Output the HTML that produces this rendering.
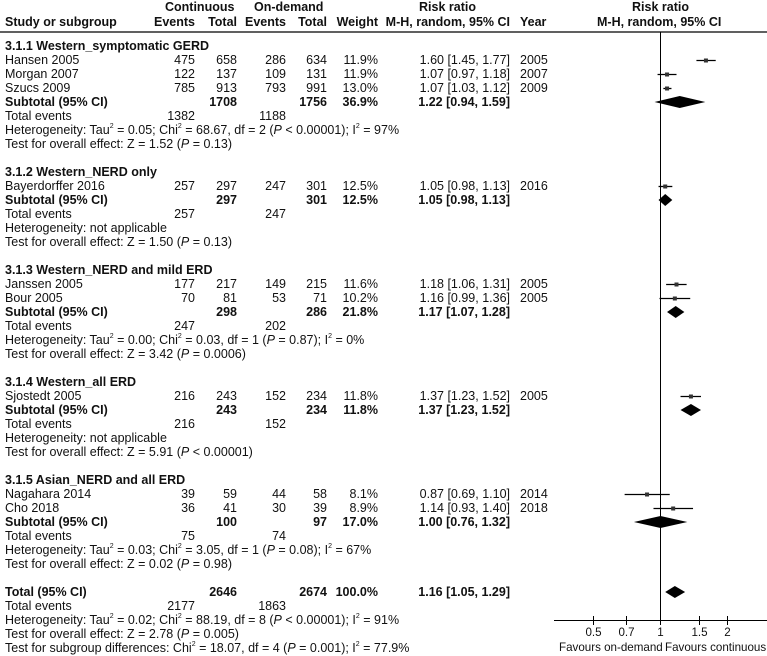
<!DOCTYPE html>
<html><head><meta charset="utf-8">
<style>
body{margin:0;background:#fff;}
#wrap{position:relative;width:767px;height:656px;overflow:hidden;font-family:"Liberation Sans",sans-serif;font-size:12.5px;color:#111;}
.t{position:absolute;white-space:nowrap;line-height:14px;height:14px;}
.r{text-align:right;}
.b{font-weight:bold;}
.hd{font-weight:bold;font-size:12.5px;}
.sm{font-size:11.6px;}
sup{font-size:7px;vertical-align:6px;line-height:0;}
i{font-style:italic;}
svg{position:absolute;left:0;top:0;}
</style></head>
<body>
<div id="wrap">
<svg id="plot" width="767" height="656"></svg>
</div>
<script>
// ---- data ----
const rowIndex = [1,2,3,10,17,18,25,32,33];
const studyNames = ["Hansen 2005","Morgan 2007","Szucs 2009","Bayerdorffer 2016","Janssen 2005","Bour 2005","Sjostedt 2005","Nagahara 2014","Cho 2018"];
const contEvents = [475,122,785,257,177,70,216,39,36];
const contTotal = [658,137,913,297,217,81,243,59,41];
const odEvents = [286,109,793,247,149,53,152,44,30];
const odTotal = [634,131,991,301,215,71,234,58,39];
const weights = ["11.9%","11.9%","13.0%","12.5%","11.6%","10.2%","11.8%","8.1%","8.9%"];
const rr = [1.60,1.07,1.07,1.05,1.18,1.16,1.37,0.87,1.14];
const rrLo = [1.45,0.97,1.03,0.98,1.06,0.99,1.23,0.69,0.93];
const rrHi = [1.77,1.18,1.12,1.13,1.31,1.36,1.52,1.10,1.40];
const years = ["2005","2007","2009","2016","2005","2005","2005","2014","2018"];

const subRowIndex = [4,11,19,26,34,39];
const subLabels = ["Subtotal (95% CI)","Subtotal (95% CI)","Subtotal (95% CI)","Subtotal (95% CI)","Subtotal (95% CI)","Total (95% CI)"];
const subContTotal = [1708,297,298,243,100,2646];
const subOdTotal = [1756,301,286,234,97,2674];
const subWeight = ["36.9%","12.5%","21.8%","11.8%","17.0%","100.0%"];
const subRR = [1.22,1.05,1.17,1.37,1.00,1.16];
const subLo = [0.94,0.98,1.07,1.23,0.76,1.05];
const subHi = [1.59,1.13,1.28,1.52,1.32,1.29];
const teContEvents = [1382,257,247,216,75,2177];
const teOdEvents = [1188,247,202,152,74,1863];

const groupRowIndex = [0,9,16,24,31];
const groupTitles = ["3.1.1 Western_symptomatic GERD","3.1.2 Western_NERD only","3.1.3 Western_NERD and mild ERD","3.1.4 Western_all ERD","3.1.5 Asian_NERD and all ERD"];
const hetText = [
 "Heterogeneity: Tau<sup>2</sup> = 0.05; Chi<sup>2</sup> = 68.67, df = 2 (<i>P</i> &lt; 0.00001); I<sup>2</sup> = 97%",
 "Heterogeneity: not applicable",
 "Heterogeneity: Tau<sup>2</sup> = 0.00; Chi<sup>2</sup> = 0.03, df = 1 (<i>P</i> = 0.87); I<sup>2</sup> = 0%",
 "Heterogeneity: not applicable",
 "Heterogeneity: Tau<sup>2</sup> = 0.03; Chi<sup>2</sup> = 3.05, df = 1 (<i>P</i> = 0.08); I<sup>2</sup> = 67%",
 "Heterogeneity: Tau<sup>2</sup> = 0.02; Chi<sup>2</sup> = 88.19, df = 8 (<i>P</i> &lt; 0.00001); I<sup>2</sup> = 91%"];
const testText = [
 "Test for overall effect: Z = 1.52 (<i>P</i> = 0.13)",
 "Test for overall effect: Z = 1.50 (<i>P</i> = 0.13)",
 "Test for overall effect: Z = 3.42 (<i>P</i> = 0.0006)",
 "Test for overall effect: Z = 5.91 (<i>P</i> &lt; 0.00001)",
 "Test for overall effect: Z = 0.02 (<i>P</i> = 0.98)",
 "Test for overall effect: Z = 2.78 (<i>P</i> = 0.005)"];
const tickValues = [0.5,0.7,1,1.5,2];
const tickLabels = ["0.5","0.7","1","1.5","2"];

// ---- layout ----
const wrap = document.getElementById('wrap');
const svg = document.getElementById('plot');
const NS = "http://www.w3.org/2000/svg";
const y0 = 46, dy = 14;
function rowY(i){ return y0 + i*dy; }
function xScale(v){ return 660.5 + 96.7*Math.log(v); }
const COL = {ce:195, ct:237, oe:286, ot:327, w:378, rr:510, yr:520};
function fmt(v){ return v.toFixed(2); }

function txt(html, x, yc, cls, name, right){
  const d = document.createElement('div');
  d.className = 't ' + (cls||'');
  d.innerHTML = html;
  d.style.top = (yc-7) + 'px';
  if(right){ d.style.left = (x-200)+'px'; d.style.width='200px'; d.style.textAlign='right'; }
  else d.style.left = x + 'px';
  
  
  wrap.appendChild(d);
  return d;
}
function el(tag, attrs, name){
  const e = document.createElementNS(NS, tag);
  for(const k in attrs) e.setAttribute(k, attrs[k]);
  
  
  svg.appendChild(e);
  return e;
}

// headers
txt("Continuous", 165, 7, 'hd', 'header-continuous');
txt("On-demand", 254, 7, 'hd', 'header-on-demand');
txt("Study or subgroup", 5, 22, 'hd', 'header-study');
txt("Events", COL.ce, 22, 'hd', 'header-cont-events', true);
txt("Total", COL.ct, 22, 'hd', 'header-cont-total', true);
txt("Events", COL.oe, 22, 'hd', 'header-od-events', true);
txt("Total", COL.ot, 22, 'hd', 'header-od-total', true);
txt("Weight", COL.w, 22, 'hd', 'header-weight', true);
txt("Risk ratio", 419, 7, 'hd', 'header-risk-ratio');
txt("M-H, random, 95% CI", COL.rr, 22, 'hd', 'header-mh-random', true);
txt("Year", COL.yr, 22, 'hd', 'header-year');
txt("Risk ratio", 632, 7, 'hd', 'plot-header-risk-ratio');
txt("M-H, random, 95% CI", 597, 22, 'hd', 'plot-header-mh-random');
el('line',{x1:0,y1:32,x2:767,y2:32,stroke:'#000','stroke-width':1.2},'header-rule');

// group titles
groupRowIndex.forEach((ri,g)=>{ txt(groupTitles[g], 5, rowY(ri), 'b', 'subgroup-title'); });

// studies
studyNames.forEach((n,i)=>{
  const y = rowY(rowIndex[i]);
  txt(n, 5, y, '', 'study-name');
  txt(contEvents[i], COL.ce, y, '', 'cont-events', true);
  txt(contTotal[i], COL.ct, y, '', 'cont-total', true);
  txt(odEvents[i], COL.oe, y, '', 'od-events', true);
  txt(odTotal[i], COL.ot, y, '', 'od-total', true);
  txt(weights[i], COL.w, y, '', 'weight', true);
  txt(fmt(rr[i])+" ["+fmt(rrLo[i])+", "+fmt(rrHi[i])+"]", COL.rr, y, '', 'risk-ratio-ci', true);
  txt(years[i], COL.yr, y, '', 'year');
  el('line',{x1:xScale(rrLo[i]),y1:y+0.5,x2:xScale(rrHi[i]),y2:y+0.5,stroke:'#000','stroke-width':1.3},'study-ci-whisker');
  el('rect',{x:xScale(rr[i])-2,y:y-1.5,width:4,height:4,fill:'#333'},'study-point');
});

// subtotals
subRowIndex.forEach((ri,k)=>{
  const y = rowY(ri);
  txt(subLabels[k], 5, y, 'b', 'subtotal-label');
  txt(subContTotal[k], COL.ct, y, 'b', 'subtotal-cont-total', true);
  txt(subOdTotal[k], COL.ot, y, 'b', 'subtotal-od-total', true);
  txt(subWeight[k], COL.w, y, 'b', 'subtotal-weight', true);
  txt(fmt(subRR[k])+" ["+fmt(subLo[k])+", "+fmt(subHi[k])+"]", COL.rr, y, 'b', 'subtotal-risk-ratio', true);
  const xl=xScale(subLo[k]), xc=xScale(subRR[k]), xh=xScale(subHi[k]);
  el('polygon',{points:`${xl},${y} ${xc},${y-6} ${xh},${y} ${xc},${y+6}`,fill:'#000'},'subtotal-diamond');
  const ty = y + dy;
  txt("Total events", 5, ty, '', 'total-events-label');
  txt(teContEvents[k], COL.ce, ty, '', 'total-events-cont', true);
  txt(teOdEvents[k], COL.oe, ty, '', 'total-events-od', true);
  txt(hetText[k], 5, y+2*dy, '', 'heterogeneity');
  txt(testText[k], 5, y+3*dy, '', 'test-overall-effect');
});
txt("Test for subgroup differences: Chi<sup>2</sup> = 18.07, df = 4 (<i>P</i> = 0.001); I<sup>2</sup> = 77.9%", 5, rowY(43), '', 'test-subgroup-differences');

// axis
el('line',{x1:660.5,y1:32,x2:660.5,y2:620,stroke:'#000','stroke-width':1},'null-line');
el('line',{x1:554,y1:620.5,x2:767,y2:620.5,stroke:'#000','stroke-width':1},'x-axis');
tickValues.forEach((v,i)=>{
  const x = Math.round(xScale(v)-0.5)+0.5;
  el('line',{x1:x,y1:616,x2:x,y2:625,stroke:'#000','stroke-width':1},'x-tick');
  const d = txt(tickLabels[i], x-20, 633, 'sm', 'x-tick-label');
  d.style.width='40px'; d.style.textAlign='center';
});
txt("Favours on-demand", 559, 648, 'sm', 'favours-on-demand-label');
txt("Favours continuous", 665, 648, 'sm', 'favours-continuous-label');
</script>
</body></html>
